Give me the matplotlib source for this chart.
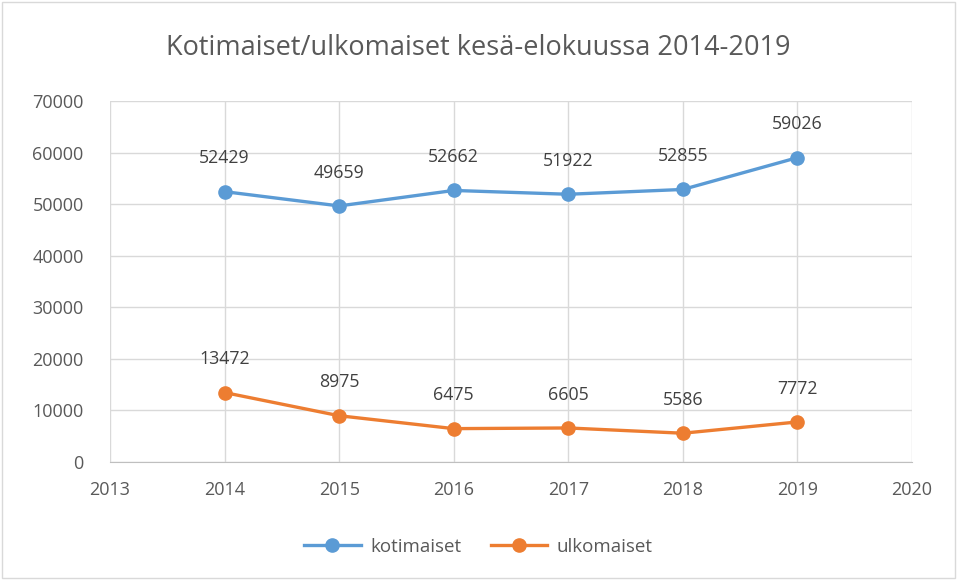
import numpy as np
import matplotlib.pyplot as plt
from matplotlib.patches import Rectangle

plt.rcParams['font.family'] = ['Open Sans', 'DejaVu Sans']

vuodet = [2014, 2015, 2016, 2017, 2018, 2019]
kotimaiset = [52429, 49659, 52662, 51922, 52855, 59026]
ulkomaiset = [13472, 8975, 6475, 6605, 5586, 7772]

sininen = '#5B9BD5'
oranssi = '#ED7D31'
teksti = '#595959'
ruudukko = '#D9D9D9'

fig = plt.figure(figsize=(9.57, 5.8), dpi=100)
ax = fig.add_axes([0.115, 0.2034, 0.838, 0.6224])

ax.plot(vuodet, kotimaiset, color=sininen, lw=2.4, marker='o', ms=9.5, label='kotimaiset', zorder=3)
ax.plot(vuodet, ulkomaiset, color=oranssi, lw=2.4, marker='o', ms=9.5, label='ulkomaiset', zorder=3)

for x, y in zip(vuodet, kotimaiset):
    ax.annotate(str(y), (x, y), xytext=(0, 24), textcoords='offset points',
                ha='center', va='center', fontsize=12.8, color='#404040')
for x, y in zip(vuodet, ulkomaiset):
    ax.annotate(str(y), (x, y), xytext=(0, 24), textcoords='offset points',
                ha='center', va='center', fontsize=12.8, color='#404040')

ax.set_xlim(2013, 2020)
ax.set_ylim(0, 70000)
ax.set_xticks(range(2013, 2021))
ax.set_yticks(range(0, 70001, 10000))
ax.grid(True, color=ruudukko, lw=1)
ax.set_axisbelow(True)
for s in ['top', 'right', 'left']:
    ax.spines[s].set_visible(False)
ax.spines['bottom'].set_color('#BFBFBF')
ax.tick_params(length=0, labelsize=13, colors=teksti)
ax.tick_params(axis='y', pad=19)
ax.tick_params(axis='x', pad=14)

fig.text(0.5, 0.917, 'Kotimaiset/ulkomaiset kesä-elokuussa 2014-2019',
         ha='center', va='center', fontsize=19.5, color=teksti)

fig.legend(loc='center', bbox_to_anchor=(0.5, 0.057), ncol=2, frameon=False,
           fontsize=13.5, labelcolor=teksti, handlelength=3.0, columnspacing=1.6,
           handletextpad=0.5)

fig.patches.append(Rectangle((0.002, 0.003), 0.996, 0.994, transform=fig.transFigure,
                             fill=False, edgecolor=ruudukko, lw=1))

fig.savefig('out.png', dpi=100)
